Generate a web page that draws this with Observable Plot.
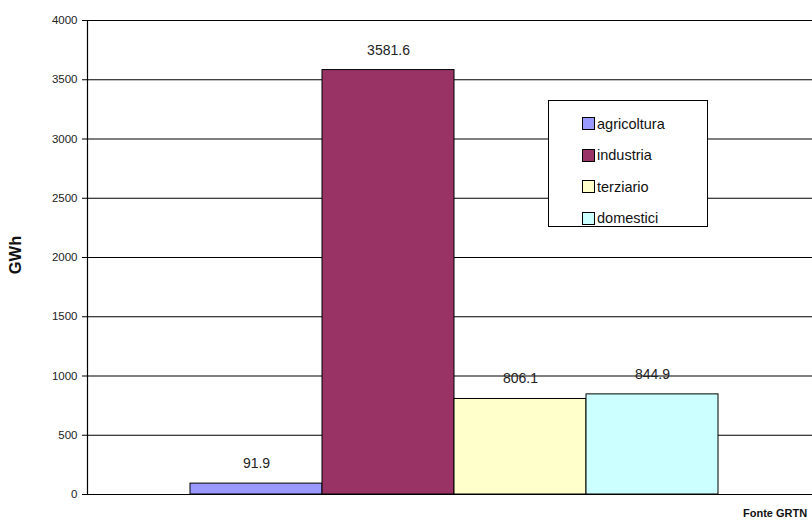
<!DOCTYPE html>
<html>
<head>
<meta charset="utf-8">
<script src="https://cdn.jsdelivr.net/npm/d3@7"></script>
<script src="https://cdn.jsdelivr.net/npm/@observablehq/plot@0.6"></script>
<style>
  html, body { margin: 0; padding: 0; background: #fff; overflow: hidden; }
  #wrap { position: relative; width: 812px; height: 524px; overflow: hidden; font-family: "Liberation Sans", Arial, sans-serif; }
  #legend { position: absolute; left: 548px; top: 100px; width: 160px; height: 127px; box-sizing: border-box;
    border: 1px solid #000; background: #fff; padding: 7px 0 0 33px; }
  .item { display: flex; align-items: center; height: 31.5px; font-size: 14.5px; color: #111; }
  .sw { width: 11px; height: 11px; border: 1px solid #000; margin-right: 2px; }
  #fonte { position: absolute; left: 743px; top: 507px; font-size: 11px; font-weight: bold; color: #111; white-space: nowrap; }
  #ylab { position: absolute; left: 15px; top: 255px; transform: translate(-50%, -50%) rotate(-90deg); font-size: 16.5px; font-weight: bold; color: #111; }
</style>
</head>
<body>
<div id="wrap"></div>
<script>
const categories = ["agricoltura", "industria", "terziario", "domestici"];
const values = [91.9, 3581.6, 806.1, 844.9];
const colors = ["#9999ff", "#993366", "#ffffcc", "#ccffff"];
const yTicks = [0, 500, 1000, 1500, 2000, 2500, 3000, 3500, 4000];

const data = categories.map((c, i) => ({category: c, value: values[i]}));

const chart = Plot.plot({
  width: 812,
  height: 524,
  marginLeft: 87,
  marginRight: 0,
  marginTop: 20,
  marginBottom: 30,
  style: {fontFamily: "'Liberation Sans', Arial, sans-serif", background: "#fff"},
  x: {domain: categories, range: [188, 719], padding: 0, axis: null},
  y: {domain: [0, 4000], ticks: yTicks},
  color: {domain: categories, range: colors},
  marks: [
    Plot.gridY(yTicks, {stroke: "#000", strokeOpacity: 1, strokeWidth: 1.2}),
    Plot.barY(data, {x: "category", y: "value", fill: "category", stroke: "#000", strokeWidth: 1}),
    Plot.text(data, {x: "category", y: "value", text: d => d.value.toFixed(1), dy: -20, fontSize: 14, fill: "#222"}),
    Plot.axisY(yTicks, {tickSize: 5, tickPadding: 5, fontSize: 11.5, fill: "#222", stroke: "#000", tickFormat: d => String(d), label: null}),
    Plot.ruleY([0], {stroke: "#000", strokeWidth: 1.2}),
    Plot.frame({anchor: "left", stroke: "#000", strokeWidth: 1.2})
  ]
});

const wrap = document.getElementById("wrap");
wrap.appendChild(chart);

const ylab = document.createElement("div");
ylab.id = "ylab";
ylab.textContent = "GWh";
wrap.appendChild(ylab);

const legend = document.createElement("div");
legend.id = "legend";
categories.forEach((c, i) => {
  const it = document.createElement("div");
  it.className = "item";
  const sw = document.createElement("div");
  sw.className = "sw";
  sw.style.background = colors[i];
  it.appendChild(sw);
  const t = document.createElement("span");
  t.textContent = c;
  it.appendChild(t);
  legend.appendChild(it);
});
wrap.appendChild(legend);

const fonte = document.createElement("div");
fonte.id = "fonte";
fonte.textContent = "Fonte GRTN";
wrap.appendChild(fonte);
</script>
</body>
</html>
